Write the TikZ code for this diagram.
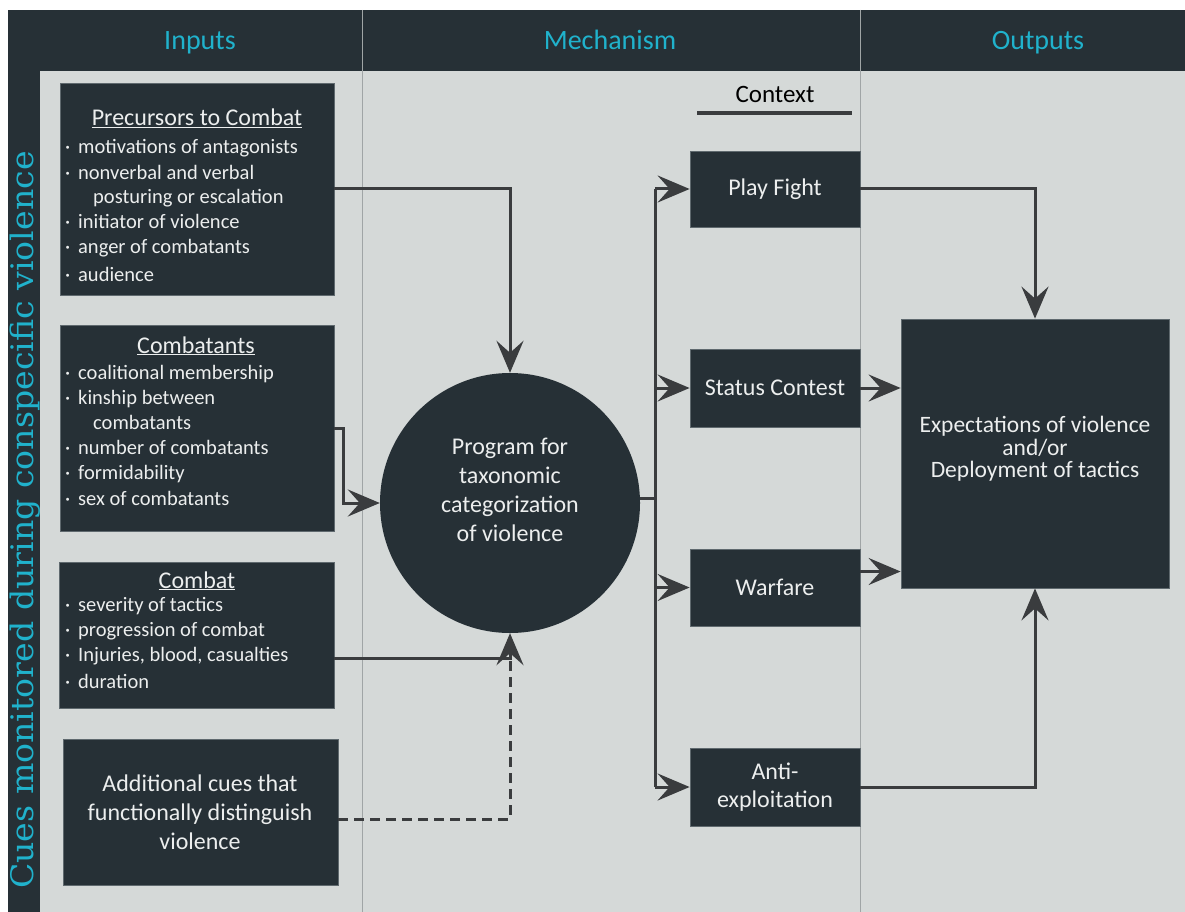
\documentclass[tikz,border=0pt]{standalone}
\usepackage{fontspec}
\usepackage{graphicx}
\setmainfont{Carlito}
\newfontfamily\slab{DejaVu Serif}
\usetikzlibrary{arrows.meta}
\definecolor{bg}{RGB}{213,217,216}
\definecolor{dark}{RGB}{38,48,54}
\definecolor{cyanh}{RGB}{32,178,204}
\definecolor{linec}{RGB}{58,60,62}
\definecolor{txt}{RGB}{236,238,238}
\definecolor{divc}{RGB}{160,165,166}
\tikzset{
  box/.style={fill=dark, draw={rgb,255:red,95;green,105;blue,110}, line width=0.8pt, inner sep=0pt},
  listline/.style={anchor=west, text=txt, inner sep=0pt, text height=16pt, text depth=0pt, font=\fontsize{20.5}{25}\selectfont},
  title/.style={anchor=center, text=txt, inner sep=0pt, text height=18pt, text depth=0pt, font=\fontsize{24}{28}\selectfont},
  bigtext/.style={text=txt, align=center, font=\fontsize{24}{29}\selectfont, inner sep=0pt},
  head/.style={anchor=base, text=cyanh, font=\fontsize{28}{32}\selectfont},
  conn/.style={draw=linec, line width=3pt},
  arr/.style={conn, -{Stealth[length=32pt, width=27pt, inset=12pt]}},
}
\newcommand{\bul}{\makebox[13pt][l]{·}}
\begin{document}
\begin{tikzpicture}[x=1pt, y=-1pt]
\useasboundingbox (0,0) rectangle (1185,912);
\fill[white] (0,0) rectangle (1185,912);
\fill[bg] (40,71) rectangle (1185,912);
\fill[dark] (8,10) rectangle (40,912);
\fill[dark] (40,10) rectangle (1185,71);
\draw[divc, line width=1pt] (362,10) -- (362,912);
\draw[divc, line width=1pt] (860,10) -- (860,912);

% headers
\node[head] (hin) at (200,50) {Inputs};
\node[head] (hmech) at (610,50) {Mechanism};
\node[head] (hout) at (1038,50) {Outputs};
\node[rotate=90, anchor=base, text=cyanh, inner sep=0pt, font=\slab\fontsize{31}{34}\selectfont] (side) at (33,520) {\scalebox{1.07}[1]{Cues monitored during conspecific violence}};

% input boxes
\node[box, minimum width=274pt, minimum height=212pt] (pre) at (197,189) {};
\node[box, minimum width=274pt, minimum height=206pt] (comb) at (197,428) {};
\node[box, minimum width=275pt, minimum height=146pt] (cmbt) at (196.5,635) {};
\node[box, minimum width=275pt, minimum height=146pt] (add) at (200.5,812) {};

\node[title] (pret) at (197,117) {\underline{Precursors to Combat}};
\node[listline] (p1) at (65,146) {\bul motivations of antagonists};
\node[listline] (p2) at (65,171) {\bul nonverbal and verbal};
\node[listline] (p3) at (93,196) {posturing or escalation};
\node[listline] (p4) at (65,220) {\bul initiator of violence};
\node[listline] (p5) at (65,245) {\bul anger of combatants};
\node[listline] (p6) at (65,273) {\bul audience};

\node[title] (combt) at (196,344) {\underline{Combatants}};
\node[listline] (c1) at (65,371) {\bul coalitional membership};
\node[listline] (c2) at (65,396) {\bul kinship between};
\node[listline] (c3) at (93,421) {combatants};
\node[listline] (c4) at (65,446) {\bul number of combatants};
\node[listline] (c5) at (65,471) {\bul formidability};
\node[listline] (c6) at (65,497) {\bul sex of combatants};

\node[title] (cmbtt) at (197,579) {\underline{Combat}};
\node[listline] (k1) at (65,603) {\bul severity of tactics};
\node[listline] (k2) at (65,628) {\bul progression of combat};
\node[listline] (k3) at (65,653) {\bul Injuries, blood, casualties};
\node[listline] (k4) at (65,680) {\bul duration};

\node[bigtext] (addt) at (200,812) {Additional cues that\\functionally distinguish\\violence};

% mechanism
\node[circle, fill=dark, minimum size=260pt, inner sep=0pt] (circ) at (510,503) {};
\node[bigtext] (circt) at (510,490) {Program for\\taxonomic\\categorization\\of violence};

\node[text=black, font=\fontsize{25}{30}\selectfont, inner sep=0pt] (ctx) at (775,94) {Context};
\draw[linec, line width=4pt] (697,113) -- (852,113);

\node[box, minimum width=170pt, minimum height=76pt] (pf) at (775,189) {};
\node[bigtext] (pft) at (775,189) {Play Fight};
\node[box, minimum width=170pt, minimum height=78pt] (sc) at (775,388) {};
\node[bigtext] (sct) at (775,388) {Status Contest};
\node[box, minimum width=170pt, minimum height=77pt] (war) at (775,587.5) {};
\node[bigtext] (wart) at (775,587.5) {Warfare};
\node[box, minimum width=170pt, minimum height=78pt] (anti) at (775,787) {};
\node[bigtext, font=\fontsize{24}{28}\selectfont] (antit) at (775,787) {Anti-\\exploitation};

% output
\node[box, minimum width=268pt, minimum height=269pt] (out) at (1035,453.5) {};
\node[bigtext, font=\fontsize{23.5}{22.5}\selectfont] (outt) at (1035,449) {Expectations of violence\\and/or\\Deployment of tactics};

% connectors
\draw[arr] (pre.east) -| (circ.north);
\draw[arr] (comb.east) -- ++(9,0) |- (circ.west);
\draw[arr] ([yshift=-23pt]cmbt.east) -| (circ.south);
\draw[conn, dash pattern=on 10pt off 6pt] ([yshift=-7pt]add.east) -| ([yshift=-28pt]circ.south);

\coordinate (tk) at (655,498);
\draw[conn] ([yshift=5pt]circ.east) -- (tk);
\draw[conn] (tk |- pf.west) -- (tk |- anti.west);
\draw[arr] (tk |- pf.west) -- (pf.west);
\draw[arr] (tk |- sc.west) -- (sc.west);
\draw[arr] (tk |- war.west) -- (war.west);
\draw[arr] (tk |- anti.west) -- (anti.west);

\coordinate (wo) at ([yshift=16pt]war.east);
\draw[arr] (pf.east) -| (out.north);
\draw[arr] (sc.east) -- (out.west |- sc.east);
\draw[arr] (wo) -- (out.west |- wo);
\draw[arr] (anti.east) -| (out.south);
\end{tikzpicture}
\end{document}
